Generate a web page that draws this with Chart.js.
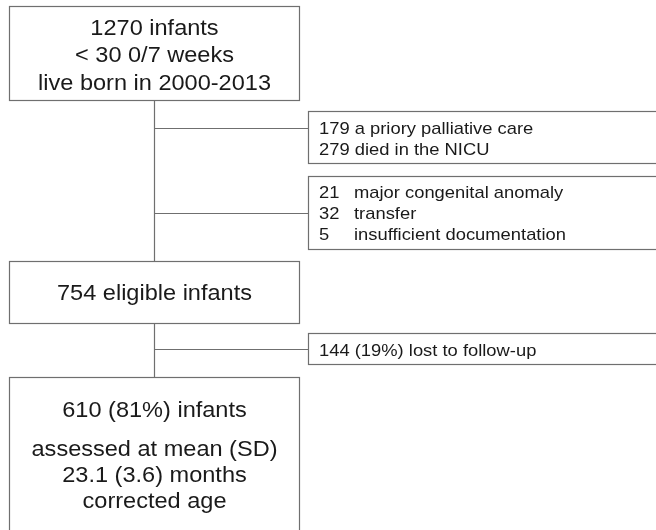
<!DOCTYPE html>
<html lang="en">
  <head>
    <meta charset="utf-8" />
    <title>Flow of infants</title>
    <style>
      * {
        margin: 0;
        padding: 0;
      }
      body {
        background: white;
      }
      .chartBox {
        width: 656px;
        height: 530px;
      }
    </style>
  </head>
  <body>
    <div class="chartBox">
      <canvas id="myChart"></canvas>
    </div>

    <script src="https://cdn.jsdelivr.net/npm/chart.js"></script>

    <script>
      // text of the boxes
      const enrolledLines = ["1270 infants", "< 30 0/7 weeks", "live born in 2000-2013"];
      const eligibleLines = ["754 eligible infants"];
      const assessedLines = ["610 (81%) infants", "assessed at mean (SD)", "23.1 (3.6) months", "corrected age"];
      const deathLines = ["179 a priory palliative care", "279 died in the NICU"];
      const excludedCounts = ["21", "32", "5"];
      const excludedReasons = ["major congenital anomaly", "transfer", "insufficient documentation"];
      const lostLines = ["144 (19%) lost to follow-up"];

      // layout (page units, y down)
      const trunkX = 154.5;
      const mainLeft = 9.5, mainRight = 299.5;
      const sideLeft = 308.5, sideRight = 665;
      const mainBoxes = [
        { top: 6.5, bottom: 100.5, lines: enrolledLines, baselines: [35, 62, 90] },
        { top: 261.5, bottom: 323.5, lines: eligibleLines, baselines: [300] },
        { top: 377.5, bottom: 540, lines: assessedLines, baselines: [417, 456, 482, 508] },
      ];
      const sideBoxes = [
        { top: 111.5, bottom: 163.5, branchY: 128.5, baselines: [134, 155] },
        { top: 176.5, bottom: 249.5, branchY: 213.5, baselines: [198, 219, 240] },
        { top: 333.5, bottom: 364.5, branchY: 349.5, baselines: [356] },
      ];

      const lineColor = "#6f6f6f";
      const textColor = "#1a1a1a";

      const connectorSet = (points) => ({
        data: points,
        showLine: true,
        borderColor: lineColor,
        borderWidth: 1.2,
        pointRadius: 0,
        fill: false,
      });

      const datasets = [
        connectorSet([{ x: trunkX, y: mainBoxes[0].bottom }, { x: trunkX, y: mainBoxes[1].top }]),
        connectorSet([{ x: trunkX, y: mainBoxes[1].bottom }, { x: trunkX, y: mainBoxes[2].top }]),
      ];
      sideBoxes.forEach((b) => {
        datasets.push(connectorSet([{ x: trunkX, y: b.branchY }, { x: sideLeft, y: b.branchY }]));
      });

      // text is a bit wider than Liberation Sans in the original
      const drawText = (ctx, text, px, py, stretch) => {
        ctx.save();
        ctx.translate(px, py);
        ctx.scale(stretch, 1);
        ctx.fillText(text, 0, 0);
        ctx.restore();
      };

      // boxes and text block
      const flowBoxes = {
        id: "flowBoxes",
        afterDatasetsDraw(chart) {
          const { ctx, scales: { x, y } } = chart;
          ctx.save();
          ctx.strokeStyle = lineColor;
          ctx.lineWidth = 1.2;
          ctx.fillStyle = textColor;
          ctx.textBaseline = "alphabetic";

          const rect = (l, t, r, b) => {
            const px = x.getPixelForValue(l);
            const py = y.getPixelForValue(t);
            ctx.strokeRect(px, py, x.getPixelForValue(r) - px, y.getPixelForValue(b) - py);
          };

          ctx.font = "22px 'Liberation Sans', Arial, sans-serif";
          ctx.textAlign = "center";
          mainBoxes.forEach((b) => {
            rect(mainLeft, b.top, mainRight, b.bottom);
            b.lines.forEach((t, i) => {
              drawText(ctx, t, x.getPixelForValue(trunkX), y.getPixelForValue(b.baselines[i]), 1.07);
            });
          });

          ctx.font = "17px 'Liberation Sans', Arial, sans-serif";
          ctx.textAlign = "left";
          sideBoxes.forEach((b) => rect(sideLeft, b.top, sideRight, b.bottom));

          const textX = x.getPixelForValue(319);
          deathLines.forEach((t, i) => drawText(ctx, t, textX, y.getPixelForValue(sideBoxes[0].baselines[i]), 1.08));
          excludedCounts.forEach((t, i) => {
            const py = y.getPixelForValue(sideBoxes[1].baselines[i]);
            drawText(ctx, t, textX, py, 1.08);
            drawText(ctx, excludedReasons[i], x.getPixelForValue(354), py, 1.08);
          });
          lostLines.forEach((t, i) => drawText(ctx, t, textX, y.getPixelForValue(sideBoxes[2].baselines[i]), 1.08));
          ctx.restore();
        },
      };

      const config = {
        type: "scatter",
        data: { datasets: datasets },
        options: {
          responsive: true,
          maintainAspectRatio: false,
          animation: false,
          layout: { padding: 0 },
          plugins: {
            legend: { display: false },
            tooltip: { enabled: false },
          },
          scales: {
            x: { type: "linear", min: 0, max: 656, display: false },
            y: { type: "linear", min: 0, max: 530, reverse: true, display: false },
          },
        },
        plugins: [flowBoxes],
      };

      const myChart = new Chart(document.getElementById("myChart"), config);
    </script>
  </body>
</html>
